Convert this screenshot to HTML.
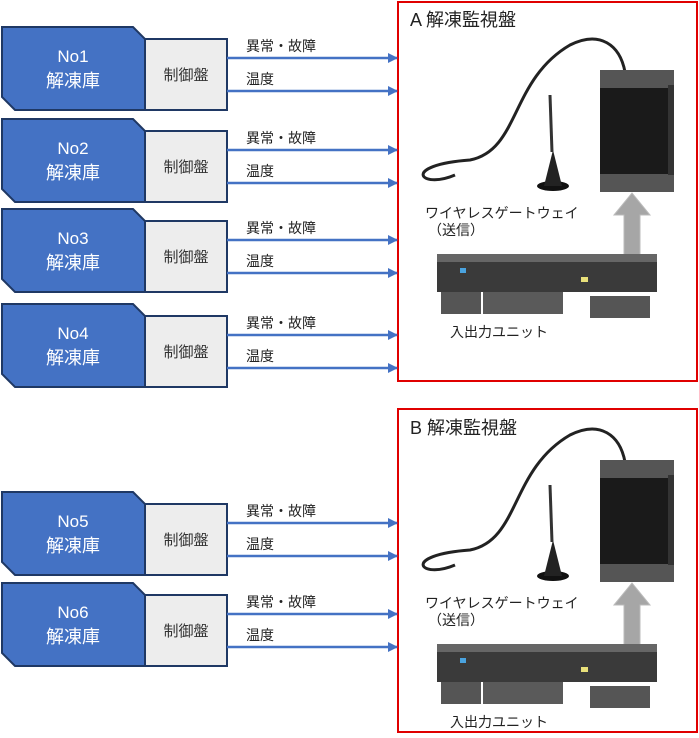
<!DOCTYPE html>
<html><head><meta charset="utf-8"><style>
html,body{margin:0;padding:0;background:#fff;}
svg{display:block;font-family:"Liberation Sans","Noto Sans CJK JP",sans-serif;}
</style></head><body>
<svg width="699" height="738" viewBox="0 0 699 738" xmlns="http://www.w3.org/2000/svg">
<defs>
<marker id="ah" markerWidth="10" markerHeight="10" refX="9" refY="5" orient="auto" markerUnits="userSpaceOnUse">
<path d="M0,0 L10,5 L0,10 z" fill="#4472c4"/></marker>
<g id="row">
<path d="M2,0 L133,0 L146,13 L146,83 L15,83 L2,70 Z" fill="#4472c4" stroke="#1f3864" stroke-width="2"/>
<rect x="145" y="12" width="82" height="71" fill="#ededed" stroke="#1f3864" stroke-width="2"/>
<text x="73" y="60" font-size="18" fill="#fff" text-anchor="middle">解凍庫</text>
<text x="186" y="53" font-size="15" fill="#333" text-anchor="middle">制御盤</text>
<line x1="227" y1="31" x2="397" y2="31" stroke="#4472c4" stroke-width="2.5" marker-end="url(#ah)"/>
<line x1="227" y1="64" x2="397" y2="64" stroke="#4472c4" stroke-width="2.5" marker-end="url(#ah)"/>
<text x="246" y="24" font-size="14" fill="#222">異常・故障</text>
<text x="246" y="57" font-size="14" fill="#222">温度</text>
</g>
<g id="dev">
<path d="M455,175 C420,190 400,165 470,160 C520,150 510,80 570,45 C600,30 620,45 625,72" fill="none" stroke="#222" stroke-width="3"/>
<ellipse cx="553" cy="186" rx="16" ry="5" fill="#111"/>
<path d="M544,186 L553,150 L562,186 Z" fill="#222"/>
<line x1="552" y1="152" x2="550" y2="95" stroke="#333" stroke-width="3"/>
<rect x="600" y="70" width="74" height="122" fill="#1a1a1a"/>
<rect x="600" y="70" width="74" height="18" fill="#555"/>
<rect x="600" y="174" width="74" height="18" fill="#555"/>
<rect x="668" y="85" width="6" height="90" fill="#333"/>
<polygon points="614,215 632,193 650,215 640,215 640,258 624,258 624,215" fill="#a6a6a6" stroke="#bbb"/>
<rect x="437" y="256" width="220" height="36" fill="#3a3a3a"/>
<rect x="437" y="254" width="220" height="8" fill="#666"/>
<rect x="441" y="292" width="40" height="22" fill="#555"/>
<rect x="483" y="292" width="80" height="22" fill="#5a5a5a"/>
<rect x="590" y="296" width="60" height="22" fill="#555"/>
<rect x="460" y="268" width="6" height="5" fill="#4aa3df"/>
<rect x="581" y="277" width="7" height="5" fill="#e8e07a"/>
<text x="425" y="218" font-size="14" fill="#222">ワイヤレスゲートウェイ</text>
<text x="428" y="235" font-size="14" fill="#222">（送信）</text>
<text x="450" y="337" font-size="14" fill="#222">入出力ユニット</text>
</g>
</defs>
<rect x="398" y="2" width="299" height="379" fill="none" stroke="#e00000" stroke-width="2"/>
<rect x="398" y="409" width="299" height="323" fill="none" stroke="#e00000" stroke-width="2"/>
<text x="410" y="26" font-size="18" fill="#222">A 解凍監視盤</text>
<text x="410" y="434" font-size="18" fill="#222">B 解凍監視盤</text>
<use href="#dev"/>
<use href="#dev" transform="translate(0,390)"/>
<use href="#row" transform="translate(0,27)"/>
<use href="#row" transform="translate(0,119)"/>
<use href="#row" transform="translate(0,209)"/>
<use href="#row" transform="translate(0,304)"/>
<use href="#row" transform="translate(0,492)"/>
<use href="#row" transform="translate(0,583)"/>
<g font-size="17" fill="#fff" text-anchor="middle">
<text x="73" y="62">No1</text>
<text x="73" y="154">No2</text>
<text x="73" y="244">No3</text>
<text x="73" y="339">No4</text>
<text x="73" y="527">No5</text>
<text x="73" y="618">No6</text>
</g>
</svg>
</body></html>
